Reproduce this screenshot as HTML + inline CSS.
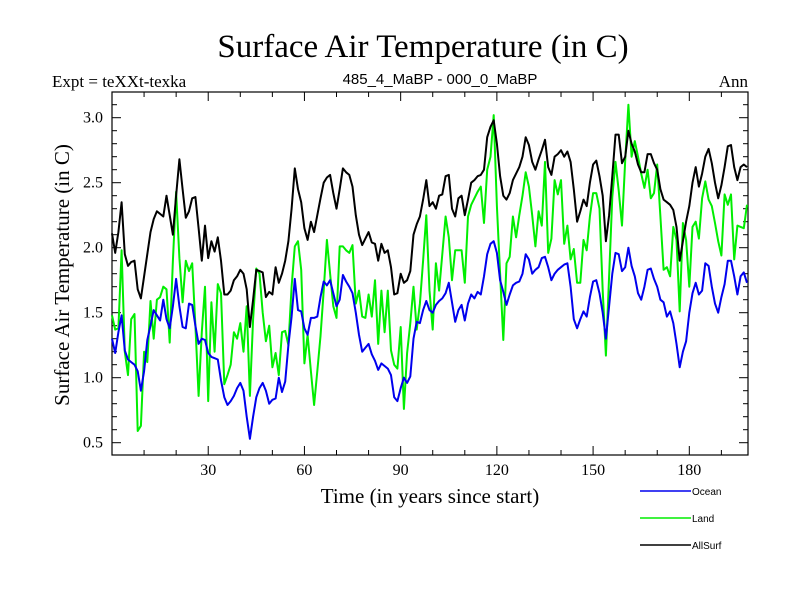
<!DOCTYPE html>
<html><head><meta charset="utf-8"><style>
body{margin:0;background:#fff;}
svg{display:block;}
.serif{font-family:"Liberation Serif",serif;}
.sans{font-family:"Liberation Sans",sans-serif;}
</style></head><body>
<svg id="chart" width="800" height="600" viewBox="0 0 800 600">
<rect width="800" height="600" fill="#fff"/>
<text class="serif" x="423" y="57" font-size="33" text-anchor="middle">Surface Air Temperature (in C)</text>
<text class="serif" x="52" y="87" font-size="17">Expt = teXXt-texka</text>
<text class="sans" x="440" y="84" font-size="15" text-anchor="middle">485_4_MaBP - 000_0_MaBP</text>
<text class="serif" x="748" y="87" font-size="17" text-anchor="end">Ann</text>
<text class="serif" transform="translate(69,275) rotate(-90)" font-size="21" text-anchor="middle">Surface Air Temperature (in C)</text>
<text class="serif" x="430" y="503" font-size="21" text-anchor="middle">Time (in years since start)</text>
<g id="axes"></g>
<g id="series"></g>
<g id="legend"></g>
</svg>
<script>
const years=[];for(let i=0;i<=198;i++)years.push(i);
const ocean=[1.30,1.19,1.35,1.48,1.21,1.14,1.12,1.10,1.05,0.90,1.05,1.29,1.40,1.52,1.48,1.44,1.60,1.45,1.38,1.55,1.76,1.55,1.39,1.38,1.57,1.56,1.40,1.26,1.30,1.29,1.19,1.16,1.15,1.14,0.98,0.85,0.79,0.82,0.86,0.92,0.96,0.90,0.70,0.53,0.70,0.85,0.92,0.96,0.90,0.80,0.83,0.84,1.00,0.89,0.97,1.25,
1.47,1.76,1.52,1.51,1.38,1.33,1.46,1.46,1.47,1.62,1.74,1.71,1.75,1.65,1.55,1.60,1.79,1.74,1.70,1.65,1.50,1.33,1.20,1.23,1.26,1.18,1.13,1.06,1.11,1.09,1.07,1.02,0.85,0.82,0.92,1.00,0.96,1.01,1.30,1.43,1.42,1.52,1.59,1.52,1.50,1.56,1.59,1.61,1.65,1.73,1.58,1.43,1.52,1.56,1.44,1.57,1.64,1.61,1.66,1.64,1.78,1.95,2.03,2.05,1.96,1.75,1.66,1.56,1.64,1.71,1.73,1.74,1.80,1.95,1.91,
1.80,1.83,1.85,1.92,1.93,1.85,1.75,1.80,1.83,1.85,1.87,1.88,1.70,1.45,1.38,1.45,1.51,1.47,1.62,1.74,1.75,1.65,1.50,1.30,1.55,1.80,1.96,1.95,1.82,1.85,2.00,1.86,1.78,1.65,1.60,1.70,1.83,1.84,1.76,1.70,1.60,1.58,1.47,1.51,1.42,1.26,1.08,1.20,1.28,1.50,1.65,1.73,1.64,1.67,1.88,1.86,1.70,1.57,1.50,1.62,1.72,1.90,1.90,1.78,1.64,1.78,1.81,1.73];
const land=[1.48,1.37,1.38,1.98,1.20,1.02,1.45,1.49,0.59,0.63,1.20,1.12,1.59,1.30,1.60,1.62,1.70,1.68,1.27,1.90,2.43,1.92,1.58,1.90,1.82,1.88,1.40,0.86,1.35,1.70,0.82,1.58,1.20,1.72,1.65,0.95,1.02,1.10,1.35,1.30,1.42,1.20,1.55,0.86,1.45,1.84,1.80,1.50,1.28,1.40,1.08,1.19,1.02,1.35,1.36,1.25,
1.70,2.01,2.05,1.83,1.11,1.33,1.05,0.79,1.05,1.32,1.67,2.06,1.80,1.55,1.46,2.01,2.01,1.98,1.96,2.02,1.57,1.67,1.47,1.46,1.64,1.47,1.75,1.26,1.67,1.35,1.67,1.21,1.10,1.07,1.39,0.76,1.19,1.42,1.70,1.37,1.57,1.90,2.25,1.67,1.37,1.88,1.67,1.95,2.24,2.08,1.75,1.98,1.98,1.98,1.73,2.24,2.33,2.38,2.43,2.47,2.19,2.60,2.70,3.02,2.32,1.80,1.29,1.88,1.93,2.24,2.08,2.25,2.40,2.58,2.47,
2.25,2.01,2.28,2.17,2.66,1.96,2.07,2.52,2.41,2.52,2.03,2.17,1.91,1.99,1.73,1.73,2.06,1.98,2.24,2.42,2.42,2.30,1.67,1.17,1.78,2.39,2.66,2.44,2.17,2.67,3.10,2.70,2.82,2.70,2.57,2.46,2.60,2.38,2.42,2.64,2.24,1.83,1.85,1.78,2.16,2.06,1.51,2.19,2.06,1.70,2.16,2.20,2.07,2.38,2.51,2.37,2.32,2.19,2.05,1.94,2.41,2.33,2.41,1.91,2.17,2.16,2.15,2.33];
const allsurf=[2.11,1.96,2.12,2.35,1.95,1.86,1.89,1.90,1.68,1.61,1.78,1.95,2.12,2.22,2.28,2.26,2.24,2.40,2.25,2.10,2.40,2.68,2.45,2.23,2.28,2.38,2.39,2.15,1.90,2.17,1.92,2.05,1.97,2.08,1.90,1.64,1.64,1.67,1.75,1.78,1.83,1.80,1.68,1.39,1.60,1.83,1.82,1.81,1.62,1.66,1.64,1.85,1.73,1.80,1.90,2.05,
2.30,2.61,2.45,2.35,2.15,2.06,2.20,2.12,2.25,2.38,2.50,2.54,2.56,2.42,2.30,2.45,2.61,2.58,2.56,2.47,2.25,2.10,2.02,2.07,2.12,2.04,2.03,1.90,2.03,1.96,1.98,1.85,1.64,1.65,1.80,1.73,1.75,1.82,2.10,2.18,2.24,2.37,2.52,2.32,2.35,2.30,2.40,2.41,2.55,2.56,2.30,2.24,2.38,2.40,2.25,2.37,2.50,2.52,2.55,2.56,2.60,2.85,2.93,2.98,2.80,2.55,2.40,2.37,2.42,2.52,2.57,2.62,2.70,2.85,2.79,
2.66,2.60,2.68,2.75,2.83,2.62,2.56,2.70,2.72,2.75,2.70,2.74,2.66,2.45,2.20,2.28,2.37,2.32,2.50,2.64,2.67,2.55,2.40,2.05,2.25,2.55,2.87,2.87,2.65,2.70,2.90,2.80,2.74,2.64,2.58,2.58,2.72,2.72,2.65,2.60,2.45,2.37,2.35,2.33,2.29,2.16,1.90,2.05,2.20,2.32,2.50,2.62,2.47,2.57,2.70,2.76,2.65,2.50,2.38,2.48,2.62,2.78,2.79,2.62,2.52,2.62,2.64,2.62];
const yTickVals=[0.5,1.0,1.5,2.0,2.5,3.0];
const yTickLabels=["0.5","1.0","1.5","2.0","2.5","3.0"];
const xTickVals=[30,60,90,120,150,180];
const xTickLabels=["30","60","90","120","150","180"];
const seriesNames=["Ocean","Land","AllSurf"];

const L=112,R=748,T=92,B=455;
const X0=0,X1=198.3,Y0=3.0,YPX=117.7,PPU=130;
function sx(v){return L+(v-X0)/(X1-X0)*(R-L);}
function sy(v){return YPX+(Y0-v)*PPU;}
const NS="http://www.w3.org/2000/svg";
function mk(tag,attrs,parent){const e=document.createElementNS(NS,tag);for(const k in attrs)e.setAttribute(k,attrs[k]);parent.appendChild(e);return e;}
const axes=document.getElementById('axes');
const frame=mk('rect',{x:L,y:T,width:R-L,height:B-T,fill:'none',stroke:'#000','stroke-width':1.2},axes);


for(let v=0.5;v<=3.21;v+=0.1){
  const y=sy(v);if(y<T||y>B)continue;
  const major=Math.abs(v*2-Math.round(v*2))<1e-6;
  const len=major?9:5;
  const t1=mk('line',{x1:L,x2:L+len,y1:y,y2:y,stroke:'#000','stroke-width':1},axes);
  
  
  const t2=mk('line',{x1:R,x2:R-len,y1:y,y2:y,stroke:'#000','stroke-width':1},axes);
  
  
}
yTickVals.forEach((v,i)=>{
  const t=mk('text',{x:L-9,y:sy(v)+5,'font-size':16,'text-anchor':'end','font-family':'Liberation Serif, serif'},axes);
  t.textContent=yTickLabels[i];
  
  
});
for(let v=10;v<=X1;v+=10){
  const x=sx(v);const major=v%30===0;const len=major?9:5;
  const t1=mk('line',{x1:x,x2:x,y1:B,y2:B-len,stroke:'#000','stroke-width':1},axes);
  
  
  const t2=mk('line',{x1:x,x2:x,y1:T,y2:T+len,stroke:'#000','stroke-width':1},axes);
  
  
}
xTickVals.forEach((v,i)=>{
  const t=mk('text',{x:sx(v),y:B+20,'font-size':16,'text-anchor':'middle','font-family':'Liberation Serif, serif'},axes);
  t.textContent=xTickLabels[i];
  
  
});
const ser=document.getElementById('series');
const allData=[land,ocean,allsurf];
const colors=['#00ee00','#0000ee','#000000'];
const names=['land-line','ocean-line','allsurf-line'];
allData.forEach((d,k)=>{
  const pts=d.map((v,i)=>sx(years[i]).toFixed(1)+','+sy(v).toFixed(1)).join(' ');
  const p=mk('polyline',{points:pts,fill:'none',stroke:colors[k],'stroke-width':2,'stroke-linejoin':'round'},ser);
  
  
});
const leg=document.getElementById('legend');
const legCols=['#0000ee','#00ee00','#000000'];
seriesNames.forEach((n,i)=>{
  const y=491+i*27;
  const g=mk('g',{},leg);
  
  
  mk('line',{x1:640,x2:691,y1:y,y2:y,stroke:legCols[i],'stroke-width':1.5},g);
  const t=mk('text',{x:692,y:y+4,'font-size':10,'font-family':'Liberation Sans, sans-serif'},g);
  t.textContent=n;
});
</script>
</body></html>
